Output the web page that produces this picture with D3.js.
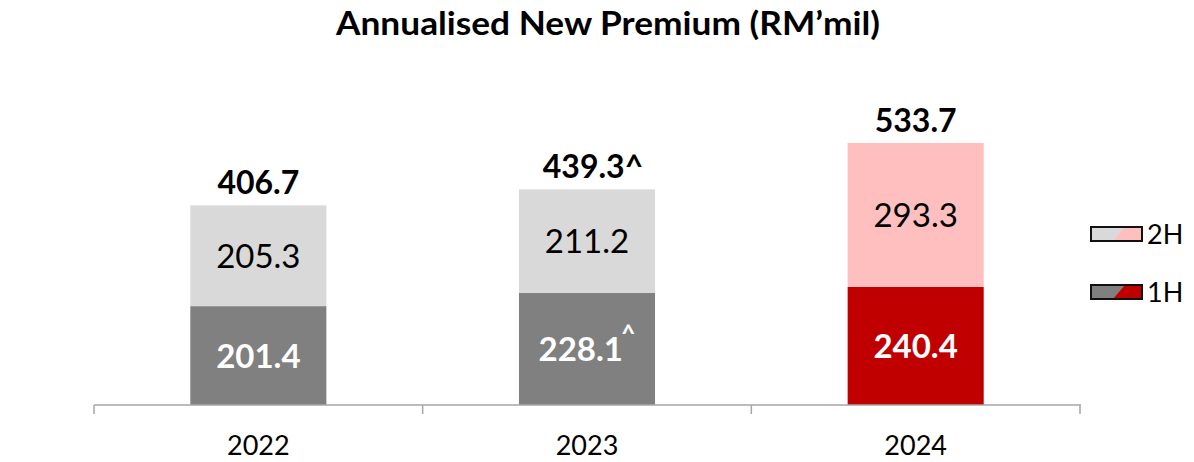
<!DOCTYPE html>
<html>
<head>
<meta charset="utf-8">
<script src="https://cdn.jsdelivr.net/npm/d3@7/dist/d3.min.js"></script>
<style>
  html, body { margin: 0; padding: 0; background: #fff; }
  svg { display: block; font-family: Lato, "Open Sans", sans-serif; }
</style>
</head>
<body>
<svg id="chart" width="1194" height="462"></svg>
<script>
// Annualised new premium, RM'mil, split by half-year
const years = ["2022", "2023", "2024"];
const firstHalf = [201.4, 228.1, 240.4];
const secondHalf = [205.3, 211.2, 293.3];
const totals = [406.7, 439.3, 533.7];
const firstHalfNotes = ["", "^", ""];
const totalNotes = ["", "^", ""];
const seriesNames = ["2H", "1H"];

const colors = {
  h1: ["#808080", "#808080", "#c00000"],
  h2: ["#d9d9d9", "#d9d9d9", "#ffbfbf"]
};

const svg = d3.select("#chart");
const margin = { left: 94, right: 114, top: 60, bottom: 57 };
const W = 1194, H = 462;
const baseY = H - margin.bottom; // 405

const x = d3.scaleBand().domain(years).range([margin.left, W - margin.right]).paddingInner(0.586).paddingOuter(0.293);
const y = d3.scaleLinear().domain([0, 533.7]).range([baseY, 143]);

// Title
svg.append("text")
  .attr("x", 608).attr("y", 35)
  .attr("text-anchor", "middle")
  .attr("font-weight", 700).attr("font-size", 33)
  .attr("textLength", 544).attr("lengthAdjust", "spacingAndGlyphs")
  .text("Annualised New Premium (RM\u2019mil)");

// Bars
const g = svg.append("g");
years.forEach((yr, i) => {
  const bx = x(yr), bw = x.bandwidth();
  g.append("rect").attr("x", bx).attr("width", bw)
    .attr("y", y(firstHalf[i])).attr("height", baseY - y(firstHalf[i]))
    .attr("fill", colors.h1[i]);
  g.append("rect").attr("x", bx).attr("width", bw)
    .attr("y", y(firstHalf[i] + secondHalf[i])).attr("height", y(firstHalf[i]) - y(firstHalf[i] + secondHalf[i]))
    .attr("fill", colors.h2[i]);

  const cx = bx + bw / 2;
  // 1H label
  const t1 = g.append("text").attr("x", cx).attr("y", (y(firstHalf[i]) + baseY) / 2 + 12)
    .attr("text-anchor", "middle").attr("font-size", 33).attr("font-weight", 700).attr("fill", "#fff");
  t1.append("tspan").text(firstHalf[i].toFixed(1));
  if (firstHalfNotes[i]) t1.append("tspan").attr("dx", -2).attr("dy", -19).attr("font-size", 25).text(firstHalfNotes[i]);

  // 2H label
  g.append("text").attr("x", cx).attr("y", (y(firstHalf[i]) + y(firstHalf[i] + secondHalf[i])) / 2 + 12)
    .attr("text-anchor", "middle").attr("font-size", 33).attr("fill", "#000")
    .text(secondHalf[i].toFixed(1));

  // Total label
  g.append("text").attr("x", cx + (totalNotes[i] ? 6 : 0)).attr("y", y(totals[i]) - 11)
    .attr("text-anchor", "middle").attr("font-size", 32).attr("font-weight", 700).attr("fill", "#000")
    .text(totals[i].toFixed(1) + totalNotes[i]);
});

// Category axis with ticks at band edges
const axisColor = "#a6a6a6";
const ax = svg.append("g");
ax.append("line").attr("x1", margin.left).attr("x2", W - margin.right + 1)
  .attr("y1", baseY).attr("y2", baseY).attr("stroke", axisColor).attr("stroke-width", 1.5);
const edges = d3.range(years.length + 1).map(k => margin.left + k * (W - margin.right - margin.left) / years.length);
edges.forEach(e => {
  ax.append("line").attr("x1", e).attr("x2", e).attr("y1", baseY).attr("y2", baseY + 9)
    .attr("stroke", axisColor).attr("stroke-width", 1.5);
});
years.forEach(yr => {
  ax.append("text").attr("x", x(yr) + x.bandwidth() / 2).attr("y", 455)
    .attr("text-anchor", "middle").attr("font-size", 27).attr("fill", "#000").text(yr);
});

// Legend: swatch shows grey on the left, highlight colour on the right
const legend = svg.append("g");
const legendRows = [
  { name: seriesNames[0], left: colors.h2[0], right: colors.h2[2], y: 227 },
  { name: seriesNames[1], left: colors.h1[0], right: colors.h1[2], y: 285 }
];
legendRows.forEach(r => {
  const lx = 1091, lw = 51, lh = 14;
  legend.append("rect").attr("x", lx).attr("y", r.y).attr("width", lw).attr("height", lh).attr("fill", r.left);
  legend.append("path")
    .attr("d", `M${lx + 22},${r.y + lh} L${lx + 34},${r.y} L${lx + lw},${r.y} L${lx + lw},${r.y + lh} Z`)
    .attr("fill", r.right);
  legend.append("rect").attr("x", lx).attr("y", r.y).attr("width", lw).attr("height", lh)
    .attr("fill", "none").attr("stroke", "#111").attr("stroke-width", 2);
  legend.append("text").attr("x", 1147).attr("y", r.y + lh / 2 + 10)
    .attr("font-size", 27).attr("fill", "#000").text(r.name);
});
</script>
</body>
</html>
